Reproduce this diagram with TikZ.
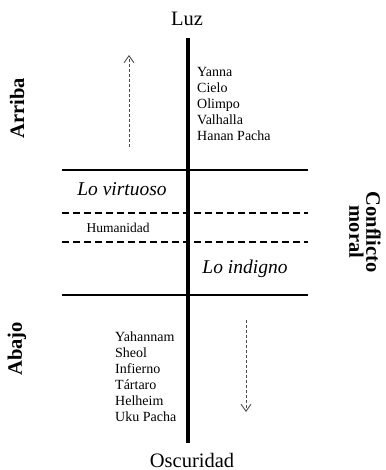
\documentclass[tikz,border=0pt]{standalone}
\usepackage{fontspec}
\setmainfont{Liberation Serif}
\usetikzlibrary{arrows.meta}
\tikzset{
  big/.style={font=\fontsize{20.5}{22}\selectfont, inner sep=0pt},
  side/.style={font=\fontsize{20.5}{17}\selectfont\bfseries, inner sep=0pt, align=center},
  zone/.style={font=\fontsize{19.5}{21}\selectfont\itshape, inner sep=0pt},
  small/.style={font=\fontsize{13.5}{15}\selectfont, inner sep=0pt},
  item/.style={font=\fontsize{14}{16}\selectfont, inner sep=0pt, anchor=base west},
  axis/.style={line width=4.2pt},
  band/.style={line width=1.3pt},
  dband/.style={line width=1.2pt, dash pattern=on 6.5pt off 4.5pt},
  dirarrow/.style={gray!60!black, line width=0.9pt, dash pattern=on 3pt off 2pt, -{Straight Barb[length=7pt,width=10pt,line width=0.9pt]}}
}
\begin{document}
\begin{tikzpicture}[x=1pt,y=-1pt]
\useasboundingbox (0,0) rectangle (385,470);
% axis
\coordinate (atop) at (188,38);
\coordinate (abot) at (188,443);
\draw[axis] (atop) -- (abot);
% horizontal bands
\coordinate (s1l) at (62,170); \coordinate (s1r) at (308,170);
\coordinate (d1l) at (62,213); \coordinate (d1r) at (308,213);
\coordinate (d2l) at (62,242); \coordinate (d2r) at (308,242);
\coordinate (s2l) at (62,295); \coordinate (s2r) at (308,295);
\draw[band] (s1l) -- (s1r);
\draw[band] (s2l) -- (s2r);
\draw[dband] (d1l) -- (d1r);
\draw[dband] (d2l) -- (d2r);
% titles
\node[big, anchor=base] (luz) at (187,26) {Luz};
\node[big, anchor=base] (osc) at (192,467) {Oscuridad};
\node[side, rotate=90] (arriba) at (17,108) {Arriba};
\node[side, rotate=90] (abajo) at (17,349) {Abajo};
\node[side, rotate=-90] (conf) at (365,232) {Conflicto\\moral};
% zones
\node[zone] (virt) at (122,189) {Lo virtuoso};
\node[small] (hum) at (118,228) {Humanidad};
\node[zone] (indig) at (245,269) {Lo indigno};
% lists
\foreach \t [count=\i] in {Yanna,Cielo,Olimpo,Valhalla,Hanan Pacha}
  \node[item] (up\i) at (197,{77+16*(\i-1)}) {\t};
\foreach \t [count=\i] in {Yahannam,Sheol,Infierno,Tártaro,Helheim,Uku Pacha}
  \node[item] (lo\i) at (115,{341+16*(\i-1)}) {\t};
% direction arrows
\coordinate (ua0) at (129,147); \coordinate (ua1) at (129,55);
\coordinate (da0) at (246,320); \coordinate (da1) at (246,412);
\draw[dirarrow] (ua0) -- (ua1);
\draw[dirarrow] (da0) -- (da1);
\end{tikzpicture}
\end{document}
